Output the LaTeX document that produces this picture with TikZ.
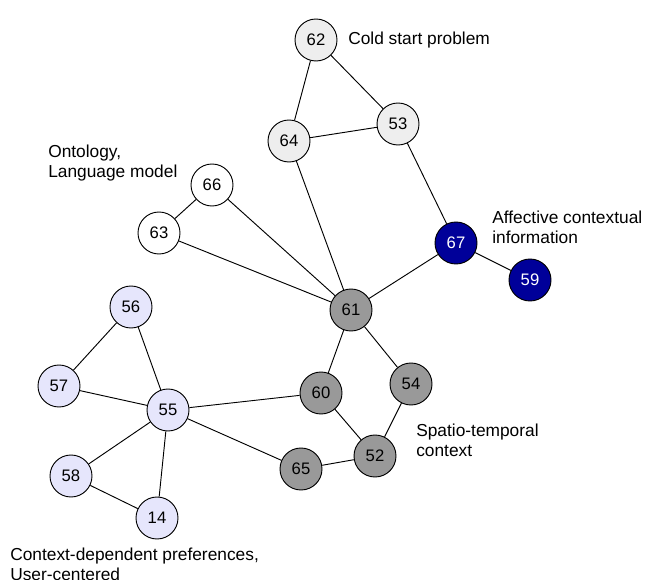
\documentclass[tikz,border=0pt]{standalone}
\usepackage{fontspec}
\setmainfont{Liberation Sans}
\usetikzlibrary{positioning}
\definecolor{paleGray}{RGB}{238,238,238}
\definecolor{midGray}{RGB}{153,153,153}
\definecolor{lavender}{RGB}{230,230,252}
\definecolor{navy}{RGB}{0,0,153}

\begin{document}
\begin{tikzpicture}[
    x=0.75pt, y=-0.75pt,
    topic/.style={circle, draw, line width=0.7pt, minimum size=31.5pt, inner sep=0pt, font=\fontsize{12.5}{14}\selectfont},
    label text/.style={anchor=west, align=left, inner sep=0pt, font=\fontsize{13}{15}\selectfont},
    link/.style={line width=0.7pt}
]
    \useasboundingbox (0,0) rectangle (645,580);

    % Cold start
    \node[topic, fill=paleGray] (n62) at (316,40) {62};
    \node[topic, fill=paleGray] (n64) at (289,141) {64};
    \node[topic, fill=paleGray] (n53) at (398,124) {53};

    % Ontology
    \node[topic, fill=white] (n66) at (212,185) {66};
    \node[topic, fill=white] (n63) at (159,233) {63};

    % Affective
    \node[topic, fill=navy, text=white] (n67) at (456,243) {67};
    \node[topic, fill=navy, text=white] (n59) at (530,280) {59};

    % Spatio-temporal
    \node[topic, fill=midGray] (n61) at (351,310) {61};
    \node[topic, fill=midGray] (n60) at (321,393) {60};
    \node[topic, fill=midGray] (n54) at (411,384) {54};
    \node[topic, fill=midGray] (n52) at (375,456) {52};
    \node[topic, fill=midGray] (n65) at (301,469) {65};

    % User-centered
    \node[topic, fill=lavender] (n56) at (131,307) {56};
    \node[topic, fill=lavender] (n57) at (59,386) {57};
    \node[topic, fill=lavender] (n55) at (168,410) {55};
    \node[topic, fill=lavender] (n58) at (71,476) {58};
    \node[topic, fill=lavender] (n14) at (157,518) {14};

    % Links
    \draw[link] (n62) -- (n64);
    \draw[link] (n62) -- (n53);
    \draw[link] (n64) -- (n53);
    \draw[link] (n53) -- (n67);
    \draw[link] (n64) -- (n61);
    \draw[link] (n66) -- (n61);
    \draw[link] (n66) -- (n63);
    \draw[link] (n63) -- (n61);
    \draw[link] (n67) -- (n61);
    \draw[link] (n67) -- (n59);
    \draw[link] (n61) -- (n60);
    \draw[link] (n61) -- (n54);
    \draw[link] (n60) -- (n55);
    \draw[link] (n60) -- (n52);
    \draw[link] (n54) -- (n52);
    \draw[link] (n52) -- (n65);
    \draw[link] (n65) -- (n55);
    \draw[link] (n55) -- (n56);
    \draw[link] (n55) -- (n57);
    \draw[link] (n56) -- (n57);
    \draw[link] (n55) -- (n58);
    \draw[link] (n55) -- (n14);
    \draw[link] (n58) -- (n14);

    % Labels
    \node[label text] (coldLbl) at (348,40) {Cold start problem};
    \node[label text] (ontoLbl) at (48,163) {Ontology,\\Language model};
    \node[label text] (affLbl) at (492,227) {Affective contextual\\information};
    \node[label text] (spatLbl) at (416,440) {Spatio-temporal\\context};
    \node[label text] (userLbl) at (10,564) {Context-dependent preferences,\\User-centered};
\end{tikzpicture}
\end{document}
